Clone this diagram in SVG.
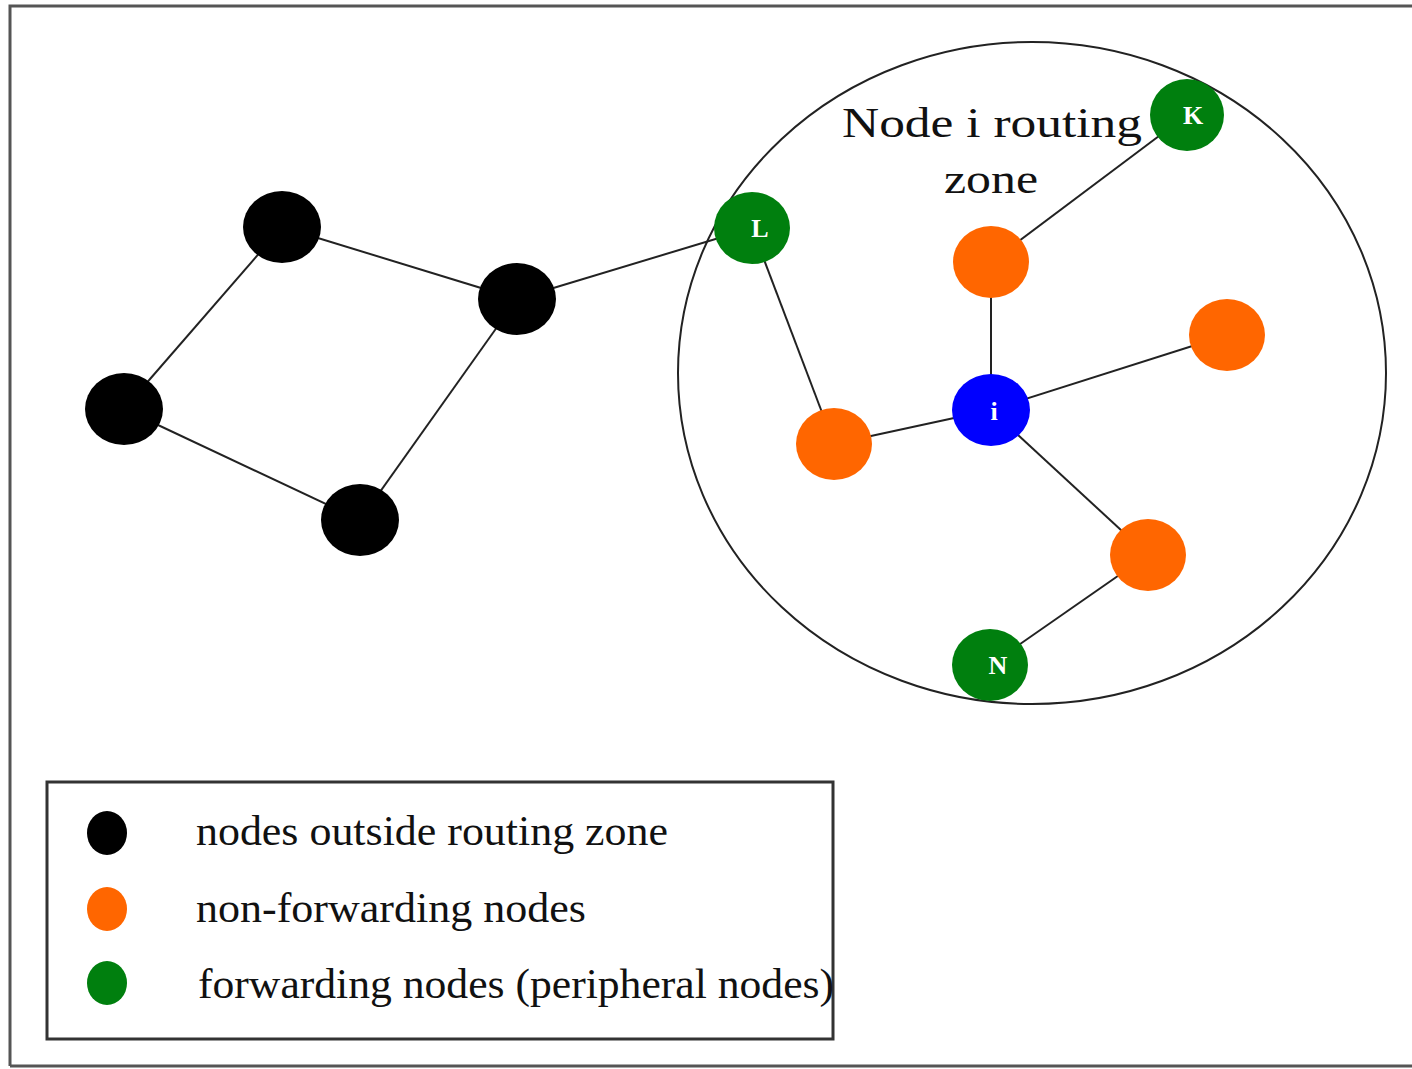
<svg xmlns="http://www.w3.org/2000/svg" width="1412" height="1069" viewBox="0 0 1412 1069">
<style>
.edge{stroke:#222;stroke-width:2;fill:none}
.blk{fill:#000}
.org{fill:#ff6600}
.grn{fill:#007f0e}
.blu{fill:#0000ff}
.lbl{font-family:"Liberation Serif",serif;font-weight:bold;font-size:26px;fill:#fff;text-anchor:middle}
.t{font-family:"Liberation Serif",serif;font-size:42px;fill:#111}
</style>
<rect x="0" y="0" width="1412" height="1069" fill="#fff"/>
<path d="M10,1066 V6 H1420 M10,1066 H1420" stroke="#555" stroke-width="3" fill="none"/>
<ellipse cx="1032" cy="373" rx="354" ry="331" fill="none" stroke="#222" stroke-width="2"/>
<text class="t" x="842" y="137" font-size="48" textLength="300" lengthAdjust="spacingAndGlyphs">Node i routing</text>
<text class="t" x="944" y="193" font-size="48" textLength="94" lengthAdjust="spacingAndGlyphs">zone</text>
<g id="connectors">
<line class="edge" x1="282" y1="227" x2="517" y2="299"/>
<line class="edge" x1="282" y1="227" x2="124" y2="409"/>
<line class="edge" x1="124" y1="409" x2="360" y2="520"/>
<line class="edge" x1="360" y1="520" x2="517" y2="299"/>
<line class="edge" x1="517" y1="299" x2="752" y2="228"/>
<line class="edge" x1="752" y1="228" x2="834" y2="444"/>
<line class="edge" x1="834" y1="444" x2="991" y2="410"/>
<line class="edge" x1="991" y1="410" x2="991" y2="262"/>
<line class="edge" x1="991" y1="262" x2="1187" y2="115"/>
<line class="edge" x1="991" y1="410" x2="1227" y2="335"/>
<line class="edge" x1="991" y1="410" x2="1148" y2="555"/>
<line class="edge" x1="1148" y1="555" x2="990" y2="665"/>
</g>
<g id="b1"><ellipse class="blk" cx="282" cy="227" rx="39" ry="36"/></g>
<g id="b2"><ellipse class="blk" cx="517" cy="299" rx="39" ry="36"/></g>
<g id="b3"><ellipse class="blk" cx="124" cy="409" rx="39" ry="36"/></g>
<g id="b4"><ellipse class="blk" cx="360" cy="520" rx="39" ry="36"/></g>
<g id="L"><ellipse class="grn" cx="752" cy="228" rx="38" ry="36"/><text class="lbl" x="760" y="237">L</text></g>
<g id="K"><ellipse class="grn" cx="1187" cy="115" rx="37" ry="36"/><text class="lbl" x="1193" y="124">K</text></g>
<g id="N"><ellipse class="grn" cx="990" cy="665" rx="38" ry="36"/><text class="lbl" x="998" y="674">N</text></g>
<g id="o1"><ellipse class="org" cx="991" cy="262" rx="38" ry="36"/></g>
<g id="o2"><ellipse class="org" cx="1227" cy="335" rx="38" ry="36"/></g>
<g id="o3"><ellipse class="org" cx="834" cy="444" rx="38" ry="36"/></g>
<g id="o4"><ellipse class="org" cx="1148" cy="555" rx="38" ry="36"/></g>
<g id="i"><ellipse class="blu" cx="991" cy="410" rx="39" ry="36"/><text class="lbl" x="994" y="420">i</text></g>
<g id="legend">
<rect x="47" y="782" width="786" height="257" fill="none" stroke="#333" stroke-width="3"/>
<ellipse class="blk" cx="107" cy="833" rx="20" ry="22"/>
<ellipse class="org" cx="107" cy="909" rx="20" ry="22"/>
<ellipse class="grn" cx="107" cy="983" rx="20" ry="22"/>
<text class="t" x="196" y="845" textLength="472" lengthAdjust="spacingAndGlyphs">nodes outside routing zone</text>
<text class="t" x="196" y="922" textLength="390" lengthAdjust="spacingAndGlyphs">non-forwarding nodes</text>
<text class="t" x="198" y="998" textLength="636" lengthAdjust="spacingAndGlyphs">forwarding nodes (peripheral nodes)</text>
</g>
</svg>
